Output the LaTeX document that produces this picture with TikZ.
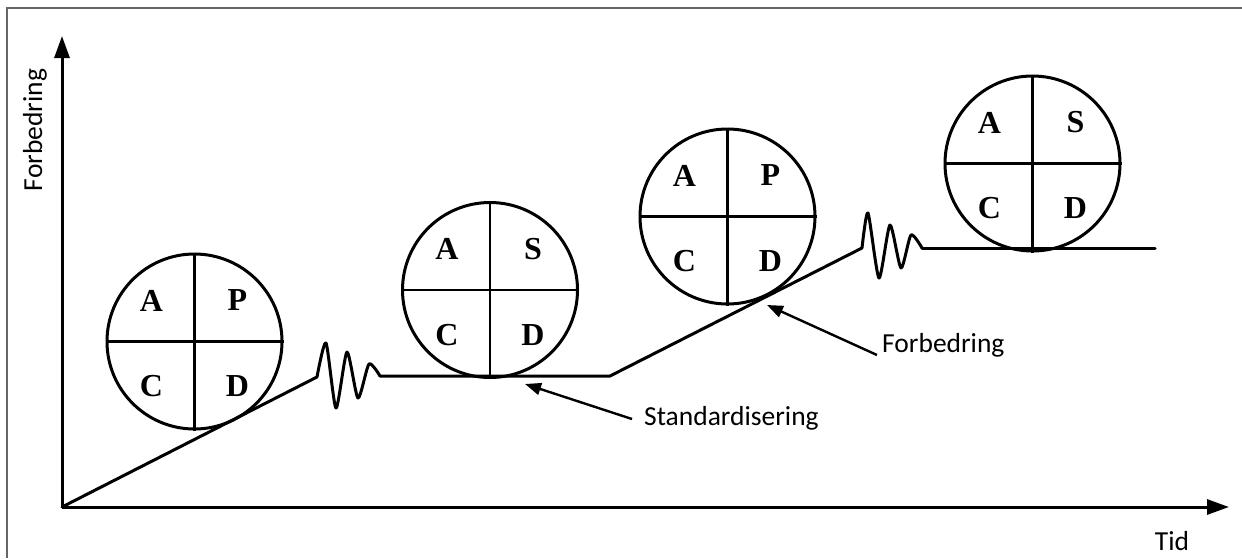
\documentclass[tikz,border=0pt]{standalone}
\usepackage{fontspec}
\setmainfont{Liberation Serif}
\newfontfamily\labelfont{Carlito}
\usetikzlibrary{arrows.meta}
\tikzset{
  graphline/.style={line width=3pt, line join=round, line cap=round},
  axis/.style={line width=3pt, -{Triangle[length=22pt,width=15pt]}},
  pdca/.style={circle, draw, line width=3pt, minimum size=175pt, inner sep=0pt},
  divider/.style={line width=2.2pt},
  letter/.style={font=\bfseries\fontsize{32}{32}\selectfont, inner sep=0pt},
  lbl/.style={font=\labelfont\fontsize{27.5}{30}\selectfont, inner sep=0pt},
  pointer/.style={line width=2.4pt, -{Triangle[length=16pt,width=12pt]}},
  frame/.style={line width=1.3pt, draw=black!60}
}
\newcommand{\pdcacircle}[4]{%
  \node[pdca] (#1) at (#2) {};
  \draw[divider] (#1.north) -- (#1.south);
  \draw[divider] (#1.west) -- (#1.east);
  \node[letter] (#1a) at ([shift={(-43,-41)}]#1.center) {#3};
  \node[letter] (#1b) at ([shift={(43,-41)}]#1.center) {#4};
  \node[letter] (#1c) at ([shift={(-43,45)}]#1.center) {C};
  \node[letter] (#1d) at ([shift={(43,45)}]#1.center) {D};
}
\begin{document}
\begin{tikzpicture}[x=1pt,y=-1pt]
\useasboundingbox (0,0) rectangle (1242,558);
% frame
\draw[frame] (7,558) -- (7,8) -- (1242,8);
% axes
\coordinate (O) at (62,507);
\coordinate (ytip) at (62,36);
\coordinate (xtip) at (1229,507);
\draw[axis] (O) -- (ytip);
\draw[axis] (O) -- (xtip);
\node[lbl, rotate=90] (ylab) at (35,130) {Forbedring};
\node[lbl] (xlab) at (1172,541) {Tid};
% graph line
\coordinate (w1s) at (317,377);
\coordinate (w1e) at (380,376);
\coordinate (h1e) at (610,376);
\coordinate (w2s) at (862,248);
\coordinate (w2e) at (922,248);
\coordinate (h2e) at (1155,248);
\draw[graphline] (O) -- (w1s);
\draw[graphline] plot[smooth, tension=0.4] coordinates {(w1s) (326,343) (336,408) (347,352) (358,398) (369,364) (w1e)};
\draw[graphline] (w1e) -- (h1e) -- (w2s);
\draw[graphline] plot[smooth, tension=0.4] coordinates {(w2s) (868,213) (879,278) (890,225) (901,268) (911,235) (w2e)};
\draw[graphline] (w2e) -- (h2e);
% circles
\pdcacircle{c1}{194.5,341.5}{A}{P}
\pdcacircle{c2}{490,290}{A}{S}
\pdcacircle{c3}{727.5,216.5}{A}{P}
\pdcacircle{c4}{1032.5,163.5}{A}{S}
% labels with pointers
\node[lbl, anchor=west] (std) at (644,418) {Standardisering};
\node[lbl, anchor=west] (forb) at (882,345) {Forbedring};
\coordinate (stdtip) at (525,384);
\coordinate (forbtip) at (767,305);
\draw[pointer] ([xshift=-12pt,yshift=-1pt]std.west) -- (stdtip);
\draw[pointer] ([xshift=-5pt,yshift=-10pt]forb.west) -- (forbtip);
\end{tikzpicture}
\end{document}
